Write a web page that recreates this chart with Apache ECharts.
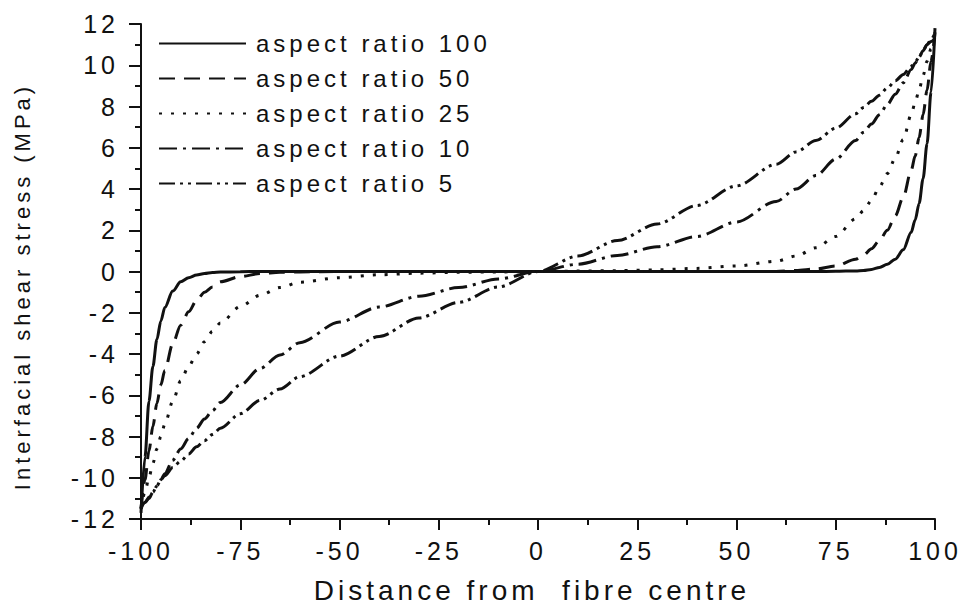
<!DOCTYPE html>
<html>
<head>
<meta charset="utf-8">
<script src="https://cdn.jsdelivr.net/npm/echarts@6/dist/echarts.min.js"></script>
<style>
  html, body { margin: 0; padding: 0; background: #fff; }
  #chart { width: 964px; height: 610px; }
  #chart text { letter-spacing: 4px; }
</style>
</head>
<body>
<div id="chart"></div>
<script>
// distance from fibre centre (x)
const distance = [-100, -99, -98, -97, -96, -95, -94, -92, -90, -88, -86, -84, -82, -80, -75, -70, -65, -60, -50, -40, -30, -20, -10,
  0, 10, 20, 30, 40, 50, 60, 65, 70, 75, 80, 82, 84, 86, 88, 90, 92, 94, 95, 96, 97, 98, 99, 100];

// interfacial shear stress (MPa) for each aspect ratio
const ratio100 = [-11.7, -9.0, -6.3, -4.6, -3.3, -2.4, -1.75, -0.95, -0.5, -0.3, -0.17, -0.1, -0.05, -0.03, -0.01, 0, 0, 0, 0, 0, 0, 0, 0,
  0, 0, 0, 0, 0, 0, 0, 0, 0, 0.01, 0.03, 0.05, 0.1, 0.2, 0.35, 0.6, 1.05, 1.9, 2.5, 3.3, 4.5, 6.2, 8.7, 11.8];
const ratio50 = [-11.5, -10.1, -8.7, -7.5, -6.4, -5.5, -4.8, -3.5, -2.6, -1.95, -1.4, -1.0, -0.75, -0.5, -0.25, -0.1, -0.04, -0.02, 0, 0, 0, 0, 0,
  0, 0, 0, 0, 0, 0, 0, 0.05, 0.12, 0.27, 0.6, 0.8, 1.1, 1.5, 2.0, 2.7, 3.6, 4.9, 5.6, 6.5, 7.6, 8.8, 10.2, 11.6];
const ratio25 = [-11.5, -10.7, -10.0, -9.3, -8.6, -8.0, -7.4, -6.3, -5.3, -4.6, -4.0, -3.4, -2.9, -2.5, -1.7, -1.15, -0.78, -0.52, -0.3, -0.16, -0.08, -0.04, -0.02,
  0, 0.02, 0.04, 0.08, 0.15, 0.27, 0.5, 0.75, 1.15, 1.7, 2.55, 2.95, 3.45, 4.1, 4.75, 5.5, 6.4, 7.6, 8.2, 8.8, 9.5, 10.2, 10.8, 11.4];
const ratio10 = [-11.4, -11.2, -11.0, -10.7, -10.4, -10.1, -9.8, -9.15, -8.6, -8.1, -7.6, -7.15, -6.75, -6.35, -5.5, -4.7, -4.05, -3.45, -2.45, -1.72, -1.2, -0.78, -0.36,
  0, 0.35, 0.78, 1.2, 1.7, 2.4, 3.4, 4.0, 4.65, 5.45, 6.35, 6.75, 7.15, 7.6, 8.1, 8.6, 9.15, 9.8, 10.1, 10.4, 10.7, 11.0, 11.15, 11.3];
const ratio5 = [-11.5, -11.2, -10.95, -10.7, -10.4, -10.1, -9.9, -9.5, -9.2, -8.85, -8.5, -8.2, -7.9, -7.6, -6.9, -6.25, -5.7, -5.1, -4.1, -3.15, -2.25, -1.5, -0.75,
  0, 0.75, 1.5, 2.3, 3.2, 4.15, 5.2, 5.8, 6.35, 6.95, 7.65, 7.95, 8.25, 8.55, 8.9, 9.25, 9.55, 9.95, 10.15, 10.4, 10.7, 11.0, 11.25, 11.55];

const names = ["aspect ratio 100", "aspect ratio 50", "aspect ratio 25", "aspect ratio 10", "aspect ratio 5"];

const FONT = "Liberation Sans";

function pairs(ys) {
  return distance.map((x, i) => [x, ys[i]]);
}

function lineSeries(name, ys, dash) {
  return {
    name: name,
    type: "line",
    symbol: "none",
    smooth: 0.3,
    smoothMonotone: "x",
    itemStyle: { color: "#111" },
    lineStyle: {
      color: "#111",
      width: 3,
      type: dash,
      cap: "butt",
    },
    data: pairs(ys),
  };
}

let myChart = echarts.init(document.getElementById("chart"), null, { renderer: "svg" });
myChart.setOption({
  animation: false,
  backgroundColor: "#fff",
  grid: {
    left: 141,
    right: 29,
    top: 24,
    bottom: 91,
  },
  legend: {
    orient: "vertical",
    left: 158,
    top: 31,
    padding: 0,
    itemWidth: 87,
    itemHeight: 14,
    itemGap: 10,
    data: names,
    itemStyle: { opacity: 0 },
    textStyle: {
      color: "#111",
      fontFamily: FONT,
      fontSize: 24,
      lineHeight: 25,
      padding: [0, 0, 0, 5],
    },
  },
  xAxis: {
    type: "value",
    min: -100,
    max: 100,
    interval: 25,
    name: "Distance from  fibre centre",
    nameLocation: "middle",
    nameGap: 57,
    nameTextStyle: {
      color: "#111",
      fontFamily: FONT,
      fontSize: 28,
      padding: [0, 12, 0, 0],
    },
    axisLine: {
      onZero: false,
      lineStyle: { color: "#111", width: 2 },
    },
    axisTick: {
      inside: false,
      length: 11,
      lineStyle: { color: "#111", width: 2 },
    },
    minorTick: {
      show: true,
      splitNumber: 2,
      length: 6,
      lineStyle: { color: "#111", width: 2 },
    },
    axisLabel: {
      margin: 19,
      color: "#111",
      fontFamily: FONT,
      fontSize: 25,
    },
    splitLine: { show: false },
  },
  yAxis: {
    type: "value",
    min: -12,
    max: 12,
    interval: 2,
    name: "Interfacial shear stress (MPa)",
    nameLocation: "middle",
    nameGap: 108,
    nameTextStyle: {
      color: "#111",
      fontFamily: FONT,
      fontSize: 22,
      padding: [0, 30, 0, 0],
    },
    axisLine: {
      show: true,
      onZero: false,
      lineStyle: { color: "#111", width: 2 },
    },
    axisTick: {
      show: true,
      inside: false,
      length: 12,
      lineStyle: { color: "#111", width: 2 },
    },
    minorTick: {
      show: true,
      splitNumber: 2,
      length: 6,
      lineStyle: { color: "#111", width: 2 },
    },
    axisLabel: {
      margin: 22,
      color: "#111",
      fontFamily: FONT,
      fontSize: 25,
    },
    splitLine: { show: false },
  },
  series: [
    lineSeries(names[0], ratio100, "solid"),
    lineSeries(names[1], ratio50, [16, 9]),
    lineSeries(names[2], ratio25, [3, 9]),
    lineSeries(names[3], ratio10, [18, 6, 3, 6]),
    lineSeries(names[4], ratio5, [16, 5, 3, 5, 3, 5]),
  ],
});
</script>
</body>
</html>
